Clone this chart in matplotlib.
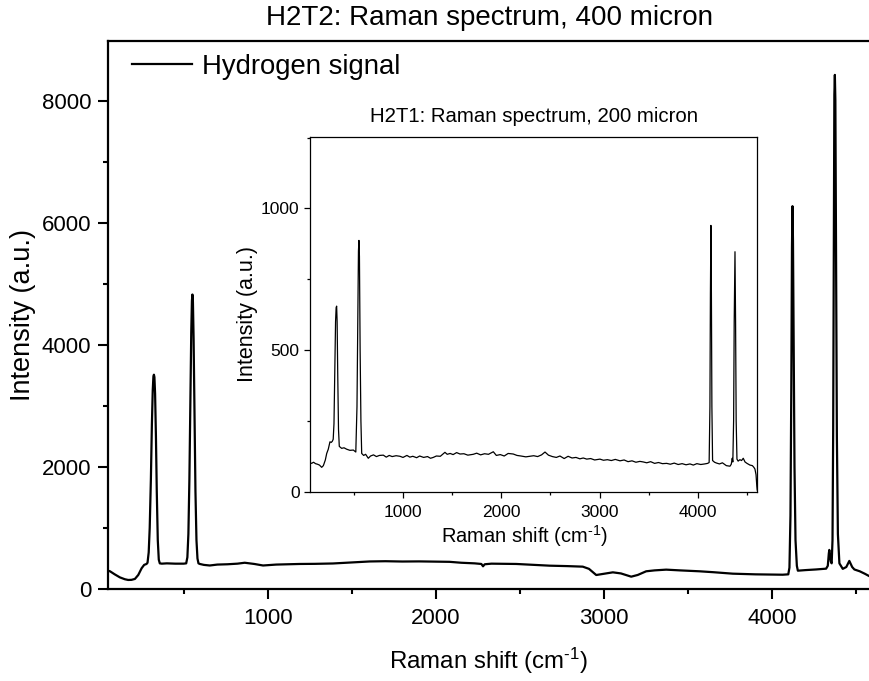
import matplotlib
matplotlib.use("Agg")
import matplotlib.pyplot as plt
from matplotlib.ticker import MultipleLocator

plt.rcParams['font.family'] = ['Liberation Sans', 'DejaVu Sans']
plt.rcParams['mathtext.fontset'] = 'custom'
plt.rcParams['mathtext.rm'] = 'Liberation Sans'
plt.rcParams['mathtext.it'] = 'Liberation Sans:italic'

# ---------------- data: main spectrum (400 micron) ----------------
main_shift = [50, 62, 90, 121, 150, 170, 190, 210, 230, 250, 265, 279,
              285, 292, 298, 305, 311, 316, 320, 323, 326, 330, 335, 340, 346, 352, 358,
              370, 400, 450, 500,
              515, 522, 528, 534, 540, 545, 549, 552, 555, 559, 564, 570, 576, 582, 588,
              596, 620, 655, 700, 760, 820, 863, 920, 972, 1050, 1120, 1190, 1280, 1387,
              1500, 1606, 1700, 1800, 1900, 2000, 2081, 2150, 2230, 2270, 2280, 2290,
              2330, 2400, 2478, 2560, 2676, 2780, 2873, 2910, 2953, 3000, 3052, 3100,
              3161, 3200, 3250, 3300, 3369, 3450, 3567, 3650, 3765, 3900, 4000, 4062,
              4095, 4102, 4108, 4113, 4117, 4120, 4123, 4127, 4132, 4138, 4146, 4152,
              4200, 4260, 4320, 4330, 4336, 4339, 4343, 4348, 4353, 4358, 4362, 4366,
              4369, 4372, 4375, 4379, 4384, 4390, 4399, 4419, 4440, 4458, 4475, 4488,
              4520, 4550, 4577]
main_int = [300, 290, 240, 190, 160, 148, 150, 165, 230, 340, 395, 410,
            430, 600, 1000, 1800, 2700, 3250, 3480, 3510, 3470, 3200, 2500, 1600, 800, 480, 420,
            415, 420, 415, 415,
            420, 520, 900, 1800, 3100, 4200, 4720, 4823, 4700, 4100, 2900, 1600, 800, 500, 420,
            410, 395, 385, 400, 405, 415, 430, 410, 385, 400, 405, 410, 412, 418,
            435, 451, 455, 450, 452, 448, 445, 430, 420, 410, 372, 405,
            415, 412, 410, 398, 382, 375, 366, 330, 229, 250, 273, 255,
            202, 230, 290, 305, 317, 305, 290, 275, 251, 240, 236, 234,
            240, 350, 1200, 3300, 5600, 6270, 5700, 4000, 2000, 800, 380, 300,
            310, 320, 333, 380, 580, 640, 560, 450, 420, 800, 2600, 6000,
            8100, 8420, 8000, 5500, 2500, 900, 420, 330, 360, 460, 360, 320,
            290, 250, 210]

# ---------------- data: inset spectrum (200 micron) ----------------
inset_shift = [54, 70, 90, 110, 130, 150, 173, 190, 210, 224, 240, 257, 270, 281, 290,
               298, 306, 314, 320, 325, 330, 336, 344, 352, 376, 400, 427, 460, 495, 520,
               532, 540, 547, 552, 557, 564, 572, 580, 600, 620, 647, 670, 700, 730, 760,
               800, 830, 860, 890, 930, 969, 1000, 1040, 1070, 1100, 1139, 1170, 1210,
               1250, 1280, 1308, 1340, 1380, 1427, 1450, 1480, 1510, 1546, 1580, 1620,
               1660, 1715, 1750, 1790, 1830, 1870, 1919, 1950, 1990, 2030, 2070, 2122,
               2160, 2200, 2250, 2292, 2330, 2370, 2410, 2445, 2480, 2520, 2560, 2597,
               2640, 2680, 2720, 2760, 2800, 2834, 2870, 2910, 2950, 3004, 3040, 3080,
               3120, 3160, 3208, 3250, 3290, 3330, 3370, 3410, 3445, 3480, 3520, 3560,
               3600, 3640, 3683, 3720, 3760, 3800, 3840, 3880, 3920, 3954, 3990, 4030,
               4070, 4100, 4115, 4123, 4128, 4133, 4138, 4143, 4150, 4170, 4191, 4220,
               4250, 4290, 4327, 4340, 4350, 4356, 4364, 4370, 4378, 4384, 4390, 4398,
               4410, 4428, 4445, 4462, 4480, 4500, 4530, 4555, 4570, 4581, 4592, 4600,
               4604]
inset_int = [102, 100, 104, 99, 97, 94, 86, 92, 112, 135, 150, 176, 174, 178, 185,
             240, 420, 600, 650, 655, 600, 420, 220, 160, 153, 155, 150, 146, 147, 140,
             300, 600, 850, 887, 830, 500, 250, 135, 128, 132, 118, 126, 130, 124, 128,
             129, 122, 128, 124, 127, 125, 121, 128, 122, 125, 120, 126, 121,
             124, 118, 121, 126, 125, 139, 132, 135, 131, 138, 133, 134,
             129, 132, 136, 130, 134, 132, 141, 128, 131, 126, 135, 133,
             128, 126, 123, 125, 127, 124, 130, 140, 129, 124, 121, 126,
             117, 125, 119, 121, 116, 119, 115, 117, 112, 115, 111, 113,
             110, 114, 109, 112, 106, 109, 104, 107, 105, 102, 106, 100,
             103, 99, 100, 97, 101, 96, 99, 95, 98, 94, 99, 96,
             98, 100, 103, 300, 700, 940, 700, 300, 110, 104, 101, 98,
             102, 92, 90, 97, 118, 105, 250, 600, 847, 600, 250, 115,
             108, 113, 110, 118, 105, 100, 94, 92, 86, 80, 60, 20,
             6]

main_xticks = [1000, 2000, 3000, 4000]
main_yticks = [0, 2000, 4000, 6000, 8000]
inset_yticks = [0, 500, 1000]
xlabel_text = r'Raman shift (cm$^{\text{-1}}$)'

W, H = 870, 681
fig = plt.figure(figsize=(W / 100, H / 100), dpi=100)

# main axes
ax = fig.add_axes([108 / W, 1 - 589 / H, 761 / W, 548 / H])
ax.plot(main_shift, main_int, color='black', lw=1.6, label='Hydrogen signal')
ax.set_xlim(50, 4575)
ax.set_ylim(0, 8975)
ax.set_xticks(main_xticks)
ax.set_yticks(main_yticks)
ax.xaxis.set_minor_locator(MultipleLocator(500))
ax.yaxis.set_minor_locator(MultipleLocator(1000))
ax.tick_params(which='major', direction='out', length=7, width=1.5, labelsize=16, pad=5)
ax.tick_params(axis='x', which='major', pad=6.5)
ax.tick_params(which='minor', direction='out', length=3.8, width=1.5)
ax.tick_params(top=False, right=False, which='both')
for s in ['left', 'bottom', 'top']:
    ax.spines[s].set_linewidth(1.6)
ax.spines['right'].set_visible(False)
ax.set_xlabel(xlabel_text, fontsize=17.3, labelpad=12)
ax.set_ylabel('Intensity (a.u.)', fontsize=19.5, labelpad=4)
leg = ax.legend(loc='center left', bbox_to_anchor=(24 / 761, 1 - 26 / 548),
                frameon=False, fontsize=19.8, handlelength=2.2, handletextpad=0.33,
                borderpad=0, borderaxespad=0)
fig.text(490 / W, 1 - 18 / H, 'H2T2: Raman spectrum, 400 micron', fontsize=20,
         ha='center', va='center')

# inset axes
ins = fig.add_axes([310 / W, 1 - 491.7 / H, 447.3 / W, 354.7 / H])
ins.plot(inset_shift, inset_int, color='black', lw=0.9)
ins.set_xlim(54, 4605)
ins.set_ylim(0, 1252)
ins.set_xticks(main_xticks)
ins.set_yticks(inset_yticks)
ins.xaxis.set_minor_locator(MultipleLocator(500))
ins.yaxis.set_minor_locator(MultipleLocator(250))
ins.tick_params(which='major', direction='out', length=4.5, width=0.9, labelsize=12.5, pad=3)
ins.tick_params(axis='x', which='major', pad=5)
ins.tick_params(which='minor', direction='out', length=2.5, width=0.9)
for s in ins.spines.values():
    s.set_linewidth(0.9)
ins.set_xlabel(xlabel_text, fontsize=14.5)
ins.xaxis.set_label_coords(0.48, -0.125)
ins.xaxis.label.set_verticalalignment('center')
ins.set_ylabel('Intensity (a.u.)', fontsize=15.5, labelpad=2)
ins.set_title('H2T1: Raman spectrum, 200 micron', fontsize=14.7, pad=11)

fig.savefig('out.png', dpi=100)
